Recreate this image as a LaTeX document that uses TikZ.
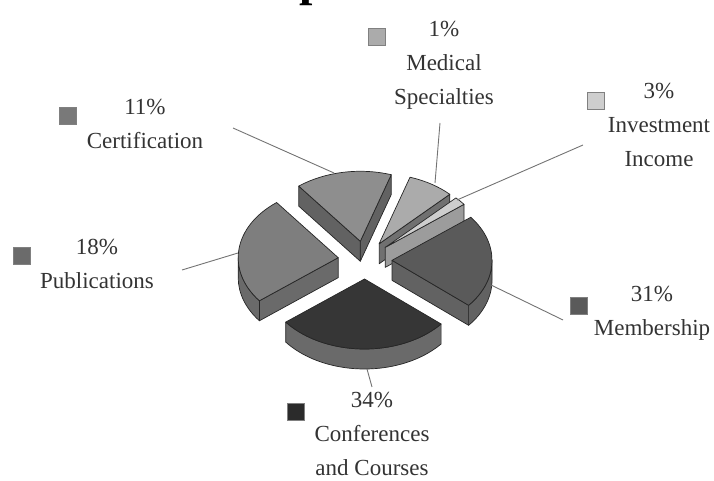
\documentclass[tikz,border=0pt]{standalone}
\usepackage{fontspec}
\setmainfont{Liberation Serif}
\usetikzlibrary{calc}

\definecolor{certc}{HTML}{8E8E8E}
\definecolor{certs}{HTML}{626262}
\definecolor{medc}{HTML}{ABABAB}
\definecolor{meds}{HTML}{707070}
\definecolor{invc}{HTML}{CECECE}
\definecolor{invs}{HTML}{9C9C9C}
\definecolor{memc}{HTML}{5A5A5A}
\definecolor{mems}{HTML}{626262}
\definecolor{pubc}{HTML}{7E7E7E}
\definecolor{pubs}{HTML}{6A6A6A}
\definecolor{confc}{HTML}{363636}
\definecolor{confs}{HTML}{6A6A6A}

\begin{document}
\begin{tikzpicture}[x=1pt,y=1pt]
  \tikzset{piece/.style = {draw=black!85, line width=0.7pt, line join=round}}
  \tikzset{keybox/.style = {draw=black!50, minimum size=17pt, inner sep=0pt}}
  \tikzset{catlabel/.style = {align=center, inner sep=0pt, text=black!80, font=\fontsize{23}{34}\selectfont}}
  \tikzset{leaderline/.style = {draw=black!55, line width=0.9pt}}

  \useasboundingbox (0,0) rectangle (714,481);
  \coordinate (C) at (365,221);

  % title, cut off by the top edge
  \node[anchor=base west, inner sep=0pt, font=\fontsize{48}{48}\selectfont\bfseries] (title) at (299,485) {p};

  % pie slices, back to front
  \foreach \a/\b/\col/\sidecol/\ea/\eb/\fa/\fb in {
      72/128/certc/certs/1/1/0/0,
      45/72/medc/meds/1/0/0/0,
      38/45/invc/invs/1/0/0/0,
      -40/38/memc/mems/1/0/-40/0,
      128/218/pubc/pubs/0/1/180/218,
      218/320/confc/confs/0/0/218/320}
  {
    \pgfmathsetmacro\midang{(\a+\b)/2}
    \coordinate (T) at ($(C)+({27*cos(\midang)},{19*sin(\midang)})$);
    \ifnum\ea=1
      \filldraw[piece, fill=\sidecol] (T) -- ++(\a:100 and 70) -- ++(0,-20) -- ($(T)+(0,-20)$) -- cycle;
    \fi
    \ifnum\eb=1
      \filldraw[piece, fill=\sidecol] (T) -- ++(\b:100 and 70) -- ++(0,-20) -- ($(T)+(0,-20)$) -- cycle;
    \fi
    \ifnum\fa=\fb\else
      \filldraw[piece, fill=\sidecol] ($(T)+(\fa:100 and 70)$) arc[start angle=\fa, end angle=\fb, x radius=100, y radius=70]
        -- ++(0,-20) arc[start angle=\fb, end angle=\fa, x radius=100, y radius=70] -- cycle;
    \fi
    \filldraw[piece, fill=\col] (T) -- ++(\a:100 and 70) arc[start angle=\a, end angle=\b, x radius=100, y radius=70] -- cycle;
  }

  % legend keys and labels
  \node[keybox, fill=medc] (kmed) at (377,444) {};
  \node[catlabel] (lmed) at (444,416) {1\%\\Medical\\Specialties};
  \node[keybox, fill=invc] (kinv) at (596,380) {};
  \node[catlabel] (linv) at (659,356) {3\%\\Investment\\Income};
  \node[keybox, fill=certc!85!black] (kcert) at (68,365) {};
  \node[catlabel] (lcert) at (145,357) {11\%\\Certification};
  \node[keybox, fill=pubc!85!black] (kpub) at (22,225) {};
  \node[catlabel] (lpub) at (97,217) {18\%\\Publications};
  \node[keybox, fill=memc] (kmem) at (579,175) {};
  \node[catlabel] (lmem) at (652,168) {31\%\\Membership};
  \node[keybox, fill=confc!80!black] (kconf) at (296,69) {};
  \node[catlabel] (lconf) at (372,47) {34\%\\Conferences\\and Courses};

  % leader lines
  \coordinate (med1) at (440,358);  \coordinate (med2) at (435,298);
  \coordinate (inv1) at (583,336);  \coordinate (inv2) at (457,281);
  \coordinate (cert1) at (233,353); \coordinate (cert2) at (334,308);
  \coordinate (pub1) at (182,211);  \coordinate (pub2) at (238,228);
  \coordinate (mem1) at (491,196);  \coordinate (mem2) at (563,161);
  \coordinate (conf1) at (367,112); \coordinate (conf2) at (372,94);
  \foreach \from/\to in {med1/med2, inv1/inv2, cert1/cert2, pub1/pub2, mem1/mem2, conf1/conf2}
    \draw[leaderline] (\from) -- (\to);
\end{tikzpicture}
\end{document}
